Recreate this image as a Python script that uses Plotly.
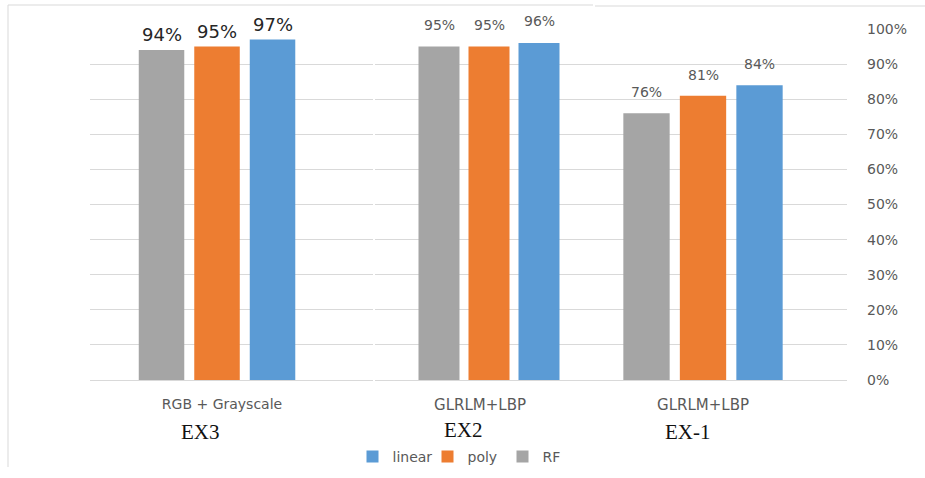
import plotly.graph_objects as go

# Accuracy (%) of three classifiers for each feature set / experiment
feature_sets = ["RGB + Grayscale", "GLRLM+LBP", "GLRLM+LBP"]
experiments = ["EX3", "EX2", "EX-1"]
rf_acc = [94, 95, 76]
poly_acc = [95, 95, 81]
linear_acc = [97, 96, 84]

series = [
    ("RF", rf_acc, "#a5a5a5"),
    ("poly", poly_acc, "#ed7d31"),
    ("linear", linear_acc, "#5b9bd5"),
]

W, H = 925, 478
GRID = "#d9d9d9"
TICK = "#595959"
SANS = "DejaVu Sans"
BARGAP = 0.4

# panel layout: pixel span, category range, value-label font and lift, tick label size/shift
panels = [
    dict(x0=90, x1=373, xr=[-0.4577, 0.5621],
         lab=dict(size=18, color="#262626", family=SANS), lift=3,
         tsize=14, shift=5),
    dict(x0=375, x1=595, xr=[-0.456, 0.424],
         lab=dict(size=14, color=TICK, family=SANS), lift=12,
         tsize=15, shift=-9),
    dict(x0=595, x1=847, xr=[-0.3823, 0.5097],
         lab=dict(size=14, color=TICK, family=SANS), lift=11,
         tsize=15, shift=0),
]
y_bottom, y_top = 380, 29
ydom = [1 - y_bottom / H, 1 - y_top / H]

fig = go.Figure()
for i, p in enumerate(panels):
    sfx = "" if i == 0 else str(i + 1)
    for k, (name, vals, color) in enumerate(series):
        fig.add_trace(go.Bar(
            x=[feature_sets[i]], y=[vals[i]], name=name,
            marker=dict(color=color, line=dict(width=0)),
            legendgroup=name, showlegend=(i == 0),
            xaxis="x" + sfx, yaxis="y" + sfx,
        ))
        # value label above each bar (bar centre within the group)
        fig.add_annotation(
            x=(k - 1) * (1 - BARGAP) / 3, y=vals[i],
            xref="x" + sfx, yref="y" + sfx,
            text=f"{vals[i]}%", showarrow=False,
            xanchor="center", yanchor="bottom", yshift=p["lift"],
            font=p["lab"],
        )
    fig.layout["xaxis" + sfx] = dict(
        domain=[p["x0"] / W, p["x1"] / W], range=p["xr"], anchor="y" + sfx,
        showgrid=False, showline=False, zeroline=False, ticks="",
        tickfont=dict(size=p["tsize"], color=TICK, family=SANS),
        ticklabelstandoff=14, ticklabelshift=p["shift"], automargin=False,
    )
    fig.layout["yaxis" + sfx] = dict(
        domain=ydom, range=[0, 100], anchor="x" + sfx,
        dtick=10, ticksuffix="%", showgrid=True, gridcolor=GRID, gridwidth=1,
        zeroline=True, zerolinecolor=GRID, zerolinewidth=1,
        showline=False, ticks="",
        showticklabels=(i == 2), side="right" if i == 2 else "left",
        tickfont=dict(size=14, color=TICK, family=SANS),
        ticklabelstandoff=19, automargin=False,
    )

# experiment names under the feature-set labels
ex_pos = [(200, 432), (463, 430), (688, 432)]
for name, (px, py) in zip(experiments, ex_pos):
    fig.add_annotation(
        text=name, x=px / W, y=1 - py / H, xref="paper", yref="paper",
        showarrow=False, xanchor="center", yanchor="middle",
        font=dict(family="Liberation Serif", size=21, color="#111111"),
    )

# light frame lines along the top and left edges
fig.add_shape(type="line", xref="paper", yref="paper",
              x0=8 / W, x1=593 / W, y0=1 - 5 / H, y1=1 - 5 / H,
              line=dict(color=GRID, width=1))
fig.add_shape(type="line", xref="paper", yref="paper",
              x0=595 / W, x1=1, y0=1 - 6 / H, y1=1 - 6 / H,
              line=dict(color=GRID, width=1))
fig.add_shape(type="line", xref="paper", yref="paper",
              x0=8 / W, x1=8 / W, y0=1 - 5 / H, y1=1 - 467 / H,
              line=dict(color=GRID, width=1))

fig.update_layout(
    width=W, height=H,
    margin=dict(l=0, r=0, t=0, b=0, autoexpand=False),
    paper_bgcolor="white", plot_bgcolor="white",
    barmode="group", bargap=BARGAP, bargroupgap=0.18,
    font=dict(family=SANS, color=TICK),
    legend=dict(
        orientation="h", traceorder="reversed",
        x=465 / W, y=1 - 457 / H, xanchor="center", yanchor="middle",
        font=dict(size=14, color=TICK, family=SANS), itemwidth=30,
        entrywidth=30, bgcolor="rgba(0,0,0,0)",
    ),
)

fig.write_html("out.html")
